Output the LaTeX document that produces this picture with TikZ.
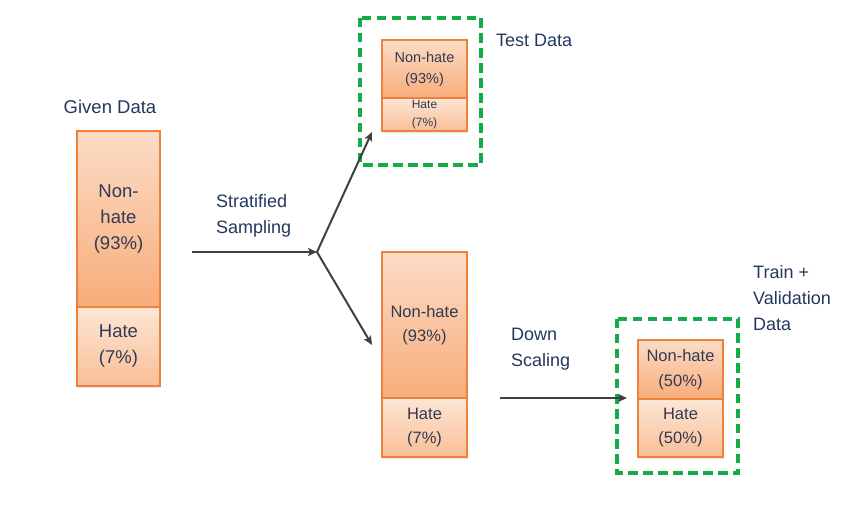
\documentclass[tikz,border=0pt]{standalone}
\usepackage{fontspec}
\setmainfont{Liberation Sans}
\usetikzlibrary{arrows.meta,shadows}
\definecolor{lbl}{RGB}{35,55,95}
\definecolor{boxtxt}{RGB}{48,58,84}
\definecolor{boxedge}{RGB}{237,130,60}
\definecolor{nhtop}{RGB}{252,220,198}
\definecolor{nhbot}{RGB}{248,172,122}
\definecolor{htop}{RGB}{253,230,214}
\definecolor{hbot}{RGB}{249,190,150}
\definecolor{dgreen}{RGB}{20,172,72}
\definecolor{arr}{RGB}{64,64,64}
\tikzset{
  part/.style={rectangle, draw=boxedge, line width=1.1pt, inner sep=0pt, outer sep=0pt,
    text=boxtxt, align=center, drop shadow={opacity=0.18, shadow xshift=1.2pt, shadow yshift=-1.8pt}},
  nh/.style={part, top color=nhtop, bottom color=nhbot},
  ht/.style={part, top color=htop, bottom color=hbot},
  grp/.style={draw=dgreen, line width=3.8pt, dash pattern=on 9.5pt off 5.5pt},
  lab/.style={text=lbl, inner sep=0pt, align=left, font=\fontsize{18}{26}\selectfont},
  conn/.style={draw=arr, line width=2pt, -{Stealth[length=9pt,width=8pt,inset=2pt]}}
}
\begin{document}
\begin{tikzpicture}[x=1pt,y=-1pt]
\useasboundingbox (0,0) rectangle (847,505);
% Given data
\node[lab, align=center, font=\fontsize{18.5}{26}\selectfont] (given) at (110,107) {Given Data};
\node[nh, minimum width=83pt, minimum height=176pt, font=\fontsize{18.5}{26}\selectfont] (gnh) at (118.5,219) {Non-\\hate\\(93\%)};
\node[ht, minimum width=83pt, minimum height=79pt, font=\fontsize{18.5}{26}\selectfont] (gh) at (118.5,346.5) {Hate\\(7\%)};
% Test data
\node[nh, minimum width=85pt, minimum height=58pt, font=\fontsize{14.5}{21}\selectfont] (tnh) at (424.5,69) {Non-hate\\(93\%)};
\node[ht, minimum width=85pt, minimum height=33pt, font=\fontsize{12}{18}\selectfont] (th) at (424.5,114.5) {Hate\\(7\%)};
\draw[grp] (360,18) rectangle (481,165);
\node[lab, anchor=west] (testlbl) at (496,40) {Test Data};
% Middle
\node[nh, minimum width=85pt, minimum height=146pt, font=\fontsize{16.5}{24}\selectfont] (mnh) at (424.5,325) {Non-hate\\(93\%)};
\node[ht, minimum width=85pt, minimum height=59pt, font=\fontsize{16.5}{23.5}\selectfont] (mh) at (424.5,427.5) {Hate\\(7\%)};
% Right
\node[nh, minimum width=85pt, minimum height=59pt, font=\fontsize{16.5}{25}\selectfont] (rnh) at (680.5,369.5) {Non-hate\\(50\%)};
\node[ht, minimum width=85pt, minimum height=58pt, font=\fontsize{16.5}{24}\selectfont] (rh) at (680.5,428) {Hate\\(50\%)};
\draw[grp] (617,319) rectangle (738,473);
\node[lab, anchor=west] (trainlbl) at (753,298.5) {Train +\\Validation\\Data};
% labels
\node[lab, anchor=west] (strat) at (216,215.5) {Stratified\\Sampling};
\node[lab, anchor=west] (down) at (511,349) {Down\\Scaling};
% connectors
\coordinate (src) at (192,252);
\coordinate (br) at (317,252);
\coordinate (tipA) at (372,132);
\coordinate (tipB) at (372,345);
\coordinate (dsrc) at (500,398);
\coordinate (dtip) at (627,398);
\draw[conn] (src) -- (br);
\draw[conn] (br) -- (tipA);
\draw[conn] (br) -- (tipB);
\draw[conn] (dsrc) -- (dtip);
\end{tikzpicture}
\end{document}
